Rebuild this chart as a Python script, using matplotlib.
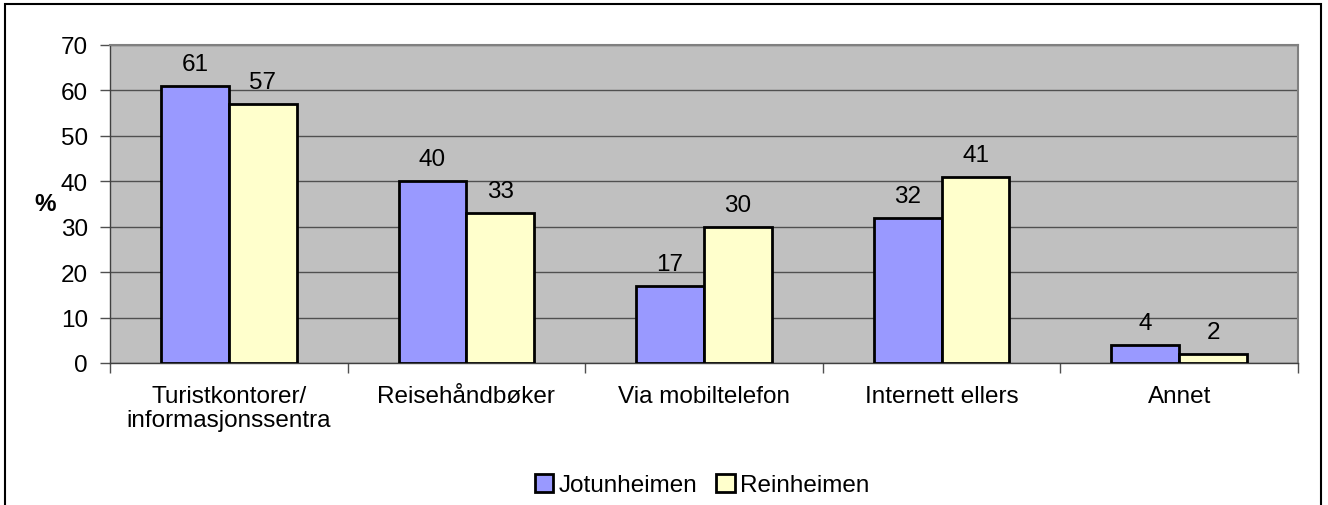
import matplotlib.pyplot as plt
from matplotlib.patches import Rectangle
import numpy as np

plt.rcParams['font.family'] = ['Liberation Sans', 'DejaVu Sans']

categories = ["Turistkontorer/\ninformasjonssentra", "Reisehåndbøker", "Via mobiltelefon",
              "Internett ellers", "Annet"]
jotunheimen = [61, 40, 17, 32, 4]
reinheimen = [57, 33, 30, 41, 2]
series_names = ["Jotunheimen", "Reinheimen"]
y_ticks = [0, 10, 20, 30, 40, 50, 60, 70]

FS = 17.5

fig = plt.figure(figsize=(13.28, 5.06), dpi=100)
ax = fig.add_axes([110 / 1328, 1 - 364 / 506, 1188 / 1328, 318 / 506])

# outer chart frame (bottom edge runs off the picture)
fig.patches.append(Rectangle((5 / 1328, -0.05), 1316 / 1328, 1.05 - 5 / 506,
                             transform=fig.transFigure, fill=False,
                             edgecolor='black', linewidth=1.5))

x = np.arange(len(categories))
w = 1 / 3.5
b1 = ax.bar(x - w / 2, jotunheimen, w, color='#9999FF', edgecolor='black',
            linewidth=2, label=series_names[0], zorder=3)
b2 = ax.bar(x + w / 2, reinheimen, w, color='#FFFFCC', edgecolor='black',
            linewidth=2, label=series_names[1], zorder=3)

for bars in (b1, b2):
    for r in bars:
        v = r.get_height()
        ax.annotate(str(int(v)), (r.get_x() + r.get_width() / 2, v),
                    xytext=(0, 8), textcoords='offset points',
                    ha='center', va='bottom', fontsize=FS)

ax.set_facecolor('#C0C0C0')
ax.set_xlim(-0.5, len(categories) - 0.5)
ax.set_ylim(0, 70)
ax.set_yticks(y_ticks)
ax.yaxis.grid(True, color='#505050', linewidth=1, zorder=0)
ax.set_axisbelow(True)

ax.set_xticks(x)
ax.set_xticklabels(categories, fontsize=FS, linespacing=1.1)
ax.tick_params(axis='x', length=0, pad=16)
ax.set_xticks(np.arange(len(categories) + 1) - 0.5, minor=True)
ax.tick_params(axis='x', which='minor', length=7, width=1, color='#505050')
ax.tick_params(axis='y', length=7, width=1, labelsize=FS, pad=9, color='#505050')

for s in ('top', 'right'):
    ax.spines[s].set_color('#808080')
    ax.spines[s].set_linewidth(1.5)
for s in ('left', 'bottom'):
    ax.spines[s].set_color('#404040')
    ax.spines[s].set_linewidth(1)

ax.text(-0.055, 0.5, "%", transform=ax.transAxes, fontsize=FS,
        fontweight='bold', ha='center', va='center')

leg = fig.legend(handles=[b1, b2], labels=series_names, loc='center',
                 bbox_to_anchor=(702 / 1328, 1 - 486 / 506), ncol=2, frameon=False,
                 fontsize=FS, handlelength=0.75, handleheight=0.75,
                 handletextpad=0.2, columnspacing=0.8, borderpad=0)

fig.savefig("out.png", dpi=100)
